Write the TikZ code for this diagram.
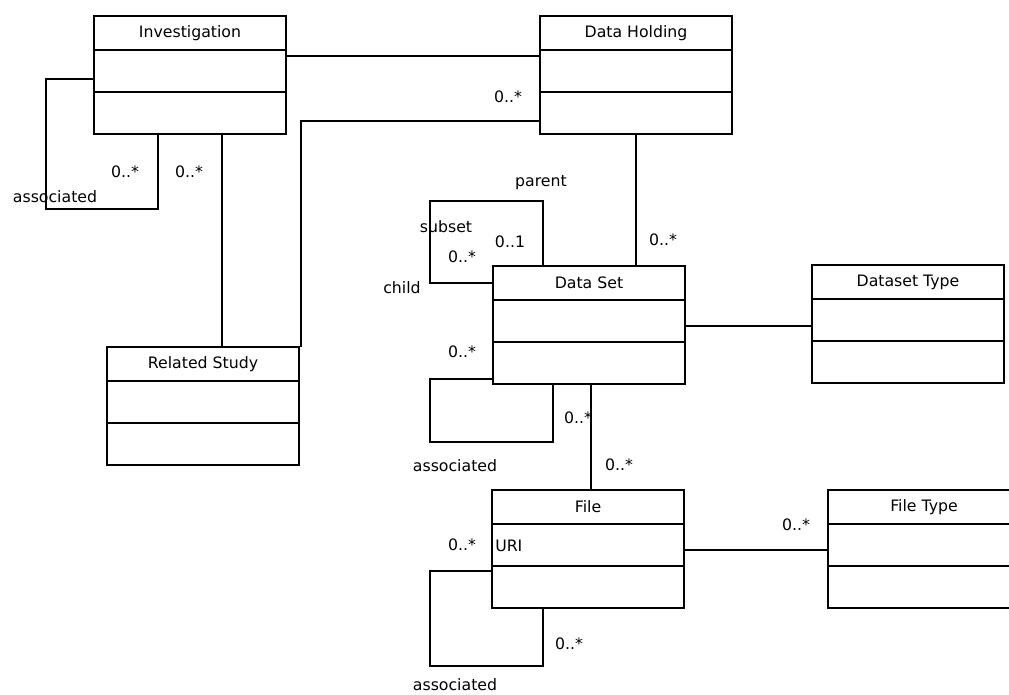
\documentclass[tikz,border=0pt]{standalone}
\usepackage{fontspec}
\setmainfont{DejaVu Sans}
\usetikzlibrary{positioning}

\begin{document}
\begin{tikzpicture}[x=0.75pt,y=-0.75pt,
            class/.style={draw,rectangle,minimum width=144pt,minimum height=25.5pt,inner sep=0pt,outer sep=0pt,line width=0.8pt,font=\fontsize{11.8}{14}\selectfont},
            part/.style={class,minimum height=31.5pt},
            lab/.style={inner sep=0pt,font=\fontsize{11.8}{14}\selectfont},
            conn/.style={draw,line width=0.85pt}
          ]
          \useasboundingbox (0,0) rectangle (1009,695);
          \clip (0,0) rectangle (1009,695);

          %classes
          \node[class,anchor=north west] (inv) at (94,16) {Investigation};
          \node[part,below=0pt of inv] (invA) {};
          \node[part,below=0pt of invA] (invO) {};

          \node[class,anchor=north west] (hold) at (540,16) {Data Holding};
          \node[part,below=0pt of hold] (holdA) {};
          \node[part,below=0pt of holdA] (holdO) {};

          \node[class,anchor=north west] (rel) at (107,347) {Related Study};
          \node[part,below=0pt of rel] (relA) {};
          \node[part,below=0pt of relA] (relO) {};

          \node[class,anchor=north west] (set) at (493,266) {Data Set};
          \node[part,below=0pt of set] (setA) {};
          \node[part,below=0pt of setA] (setO) {};

          \node[class,anchor=north west] (settype) at (812,265) {Dataset Type};
          \node[part,below=0pt of settype] (settypeA) {};
          \node[part,below=0pt of settypeA] (settypeO) {};

          \node[class,anchor=north west] (file) at (492,490) {File};
          \node[part,below=0pt of file] (fileA) {};
          \node[part,below=0pt of fileA] (fileO) {};
          \node[lab,anchor=west] (uri) at (495,546) {URI};

          \node[class,anchor=north west] (filetype) at (828,490) {File Type};
          \node[part,below=0pt of filetype] (filetypeA) {};
          \node[part,below=0pt of filetypeA] (filetypeO) {};

          %associations
          \path[conn]
          ([yshift=-4.5pt]invA.north east) -- ([yshift=-4.5pt]holdA.north west)
          ([yshift=-6pt]invA.west) -| (46,209) -| ([xshift=48pt]invO.south west)
          ([xshift=24pt]invO.south) -- ([xshift=24pt]invO.south |- rel.north)
          ([xshift=1.5pt]rel.north east) |- ([yshift=-6pt]holdO.west)
          (holdO.south) -- (holdO.south |- set.north)
          ([xshift=37.5pt]set.north west) |- (430,201) |- (set.west)
          ([yshift=3.75pt]setO.south west) -| (430,442) -| ([xshift=45pt]setO.south west)
          ([yshift=-3.75pt]setA.east) -- ([yshift=-3.75pt]setA.east -| settypeA.west)
          ([xshift=1.5pt]setO.south) -- ([xshift=1.5pt]setO.south |- file.north)
          ([yshift=-3.75pt]fileO.north west) -| (430,666) -| ([xshift=38.25pt]fileO.south west)
          ([yshift=-3.75pt]fileA.east) -- ([yshift=-3.75pt]filetypeA.west)
          ;

          %labels
          \node[lab] (l1) at (55,197) {associated};
          \node[lab] (l2) at (125,172) {0..*};
          \node[lab] (l3) at (189,172) {0..*};
          \node[lab] (l4) at (508,97) {0..*};
          \node[lab] (l5) at (541,183) {parent};
          \node[lab] (l6) at (446,227) {subset};
          \node[lab] (l7) at (510,242) {0..1};
          \node[lab] (l8) at (462,257) {0..*};
          \node[lab] (l9) at (402,288) {child};
          \node[lab] (l10) at (663,240) {0..*};
          \node[lab] (l11) at (462,352) {0..*};
          \node[lab] (l12) at (578,418) {0..*};
          \node[lab] (l13) at (455,466) {associated};
          \node[lab] (l14) at (619,465) {0..*};
          \node[lab] (l15) at (462,545) {0..*};
          \node[lab] (l16) at (569,644) {0..*};
          \node[lab] (l17) at (455,685) {associated};
          \node[lab] (l18) at (796,525) {0..*};

      \end{tikzpicture}
\end{document}
